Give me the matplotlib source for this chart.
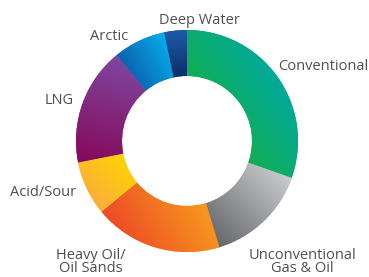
import numpy as np
import matplotlib
matplotlib.use("Agg")
import matplotlib.pyplot as plt
from matplotlib.colors import to_rgb

# ---- data ----
categories = ["Conventional", "Unconventional\nGas & Oil", "Heavy Oil/\nOil Sands",
              "Acid/Sour", "LNG", "Arctic", "Deep Water"]
shares = [30.4, 14.9, 18.7, 7.9, 17.2, 7.6, 3.3]

# ---- style ----
grad_from = ["#12AE52", "#66676B", "#EC4A26", "#FBAE3C", "#86085A", "#0A62B0", "#0C2D6B"]
grad_to = ["#00A99A", "#CBCCCE", "#F8991E", "#FFD500", "#7F47A0", "#06AEEA", "#1E5BA8"]
grad_angle = [35, 45, 30, 45, 75, 30, 90]
label_pos = [(323, 210), (302, 15), (91, 15), (43, 84), (59, 177), (109, 240), (199, 257)]

W, H = 369, 277
fig = plt.figure(figsize=(W / 100, H / 100), dpi=100)
ax = fig.add_axes([0, 0, 1, 1])

cx, cy, R, width = 187, 136, 111, 46
mid_cols = [tuple((np.array(to_rgb(a)) + np.array(to_rgb(b))) / 2) for a, b in zip(grad_from, grad_to)]
wedges, _ = ax.pie(shares, colors=mid_cols, startangle=90, counterclock=False,
                   radius=R, center=(cx, cy), frame=True,
                   wedgeprops=dict(width=width, linewidth=0))
ax.set_xlim(0, W)
ax.set_ylim(0, H)
ax.set_aspect("auto")
ax.axis("off")

n = 300
xs = np.linspace(cx - R, cx + R, n)
ys = np.linspace(cy - R, cy + R, n)
X, Y = np.meshgrid(xs, ys)
for w, c1, c2, ang in zip(wedges, grad_from, grad_to, grad_angle):
    t1, t2 = np.deg2rad(w.theta1), np.deg2rad(w.theta2)
    th = np.linspace(t1, t2, 60)
    px = np.concatenate([cx + R * np.cos(th), cx + (R - width) * np.cos(th)])
    py = np.concatenate([cy + R * np.sin(th), cy + (R - width) * np.sin(th)])
    d = np.array([np.cos(np.deg2rad(ang)), np.sin(np.deg2rad(ang))])
    proj = px * d[0] + py * d[1]
    lo, hi = proj.min(), proj.max()
    P = np.clip((X * d[0] + Y * d[1] - lo) / (hi - lo), 0, 1)[..., None]
    img = (1 - P) * np.array(to_rgb(c1)) + P * np.array(to_rgb(c2))
    im = ax.imshow(img, extent=(cx - R, cx + R, cy - R, cy + R), origin="lower",
                   interpolation="bilinear", zorder=2, aspect="auto")
    im.set_clip_path(w)

for lab, (x, y) in zip(categories, label_pos):
    ax.text(x, y, lab, ha="center", va="center", fontsize=10.5, color="#4F4F4F",
            family="Open Sans", linespacing=0.9, zorder=3)

fig.savefig("out.png", dpi=100)
